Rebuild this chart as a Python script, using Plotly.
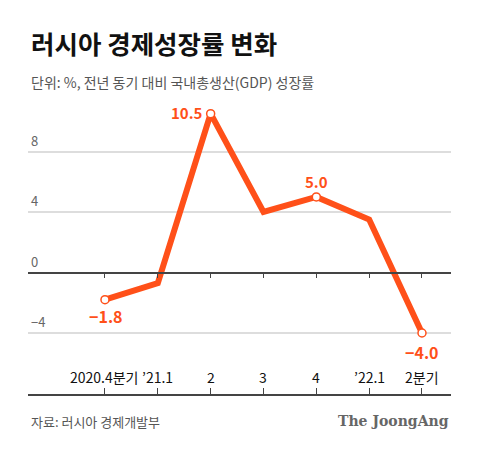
import plotly.graph_objects as go

categories = ["2020.4분기", "’21.1", "2", "3", "4", "’22.1", "2분기"]
growth = [-1.8, -0.7, 10.5, 4.0, 5.0, 3.5, -4.0]
labeled = {0: "−1.8", 2: "10.5", 4: "5.0", 6: "−4.0"}
ytick_vals = [-4, 0, 4, 8]
ytick_text = ["−4", "0", "4", "8"]

ORANGE = "#FF5019"
FONT = "Noto Sans CJK KR"
xs = list(range(len(categories)))
XMIN, XMAX = -1.457, 6.549

OFF = 8
PL, PR, PT, PB = 28, 451, 100, 420  # plot area in page pixels
ZERO_PX, UNIT_PX = 272.5, 15.125
YMAX = (ZERO_PX - PT) / UNIT_PX
YMIN = (ZERO_PX - PB) / UNIT_PX
BASE_PX = 395  # bottom axis line


def px(xp):
    return (xp - PL) / (PR - PL)


def py(yp):
    return (PB - yp) / (PB - PT)


fig = go.Figure()
fig.add_trace(go.Scatter(x=xs, y=growth, mode="lines",
                         line=dict(color=ORANGE, width=6), hoverinfo="skip"))
mi = list(labeled.keys())
fig.add_trace(go.Scatter(x=[xs[i] for i in mi], y=[growth[i] for i in mi], mode="markers",
                         marker=dict(size=8, color="white", line=dict(color=ORANGE, width=1.5)),
                         hoverinfo="skip"))
fig.add_trace(go.Scatter(x=xs, y=[None]*len(xs), xaxis="x2", yaxis="y", showlegend=False))
fig.add_trace(go.Scatter(x=xs, y=[None]*len(xs), xaxis="x3", yaxis="y", showlegend=False))

W, H = 480 - OFF, 449 - OFF
axis_common = dict(range=[XMIN, XMAX], tickvals=xs, showticklabels=False,
                   tickcolor="#444", tickwidth=1, showline=True, linecolor="#444",
                   linewidth=1.5, showgrid=False, zeroline=False, fixedrange=True)
fig.update_layout(
    width=W, height=H, showlegend=False,
    margin=dict(l=PL - OFF, r=W - (PR - OFF), t=PT - OFF, b=H - (PB - OFF), pad=0),
    paper_bgcolor="white", plot_bgcolor="white",
    xaxis=dict(range=[XMIN, XMAX], visible=False, fixedrange=True),
    xaxis2=dict(overlaying="x", anchor="free", position=py(ZERO_PX),
                ticks="outside", ticklen=5, **axis_common),
    xaxis3=dict(overlaying="x", anchor="free", position=py(BASE_PX),
                ticks="inside", ticklen=6, **axis_common),
    yaxis=dict(range=[YMIN, YMAX], tickvals=[v for v in ytick_vals if v != 0],
               showticklabels=False, gridcolor="#dddddd", gridwidth=1.5,
               zeroline=False, showline=False, fixedrange=True),
)

for v, t in zip(ytick_vals, ytick_text):
    fig.add_annotation(x=px(29), xref="paper", y=v, yref="y", text=t, showarrow=False,
                       xanchor="left", yanchor="bottom", yshift=0,
                       font=dict(family=FONT, size=13, color="#666"))

for i, c in enumerate(categories):
    fig.add_annotation(x=xs[i], xref="x", y=py(377), yref="paper", text=c, showarrow=False,
                       xanchor="center", yanchor="middle",
                       font=dict(family=FONT, size=14, color="#111"))

pos = {0: dict(xanchor="center", yanchor="top", yshift=-2, xshift=1),
       2: dict(xanchor="right", yanchor="middle", yshift=1, xshift=-6),
       4: dict(xanchor="center", yanchor="bottom", yshift=3, xshift=0),
       6: dict(xanchor="center", yanchor="top", yshift=-5, xshift=0)}
for i, t in labeled.items():
    sz = 15 if i in (2, 4) else 16
    fig.add_annotation(x=xs[i], y=growth[i], text=f"<b>{t}</b>", showarrow=False,
                       font=dict(family=FONT, size=sz, color=ORANGE), **pos[i])

fig.add_annotation(x=px(29), xref="paper", y=py(43), yref="paper",
                   text="<b>러시아 경제성장률 변화</b>", showarrow=False,
                   xanchor="left", yanchor="middle",
                   font=dict(family=FONT, size=25.5, color="#111", weight=900))
fig.add_annotation(x=px(29), xref="paper", y=py(82), yref="paper",
                   text="단위: %, 전년 동기 대비 국내총생산(GDP) 성장률", showarrow=False,
                   xanchor="left", yanchor="middle",
                   font=dict(family=FONT, size=14, color="#555"))
fig.add_annotation(x=px(29), xref="paper", y=py(421), yref="paper",
                   text="자료: 러시아 경제개발부", showarrow=False,
                   xanchor="left", yanchor="middle",
                   font=dict(family=FONT, size=13, color="#555"))
fig.add_annotation(x=px(451), xref="paper", y=py(421), yref="paper",
                   text="<b>The JoongAng</b>", showarrow=False,
                   xanchor="right", yanchor="middle",
                   font=dict(family="DejaVu Serif", size=14, color="#666"))

fig.write_html("out.html")
